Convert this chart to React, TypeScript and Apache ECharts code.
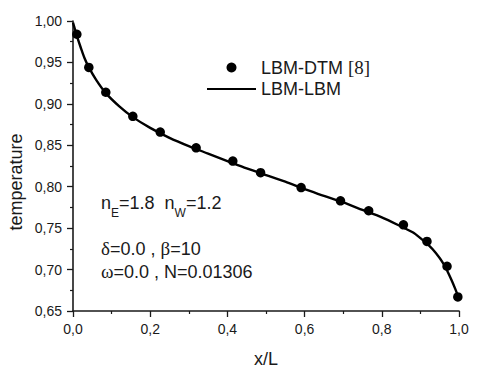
import React, { useEffect, useRef } from "react";
import * as echarts from "echarts";

const dotX = [0.01, 0.041, 0.085, 0.155, 0.226, 0.319, 0.414, 0.486, 0.591, 0.693, 0.766, 0.856, 0.917, 0.969, 0.997];
const dotY = [0.984, 0.944, 0.914, 0.885, 0.866, 0.847, 0.831, 0.817, 0.799, 0.783, 0.771, 0.754, 0.734, 0.704, 0.667];

const lineX = [0, 0.005, 0.01, 0.02, 0.03, 0.04, 0.06, 0.085, 0.12, 0.155, 0.2, 0.25, 0.3, 0.35, 0.4, 0.45, 0.5, 0.55, 0.6, 0.65, 0.7, 0.75, 0.8, 0.85, 0.88, 0.9, 0.92, 0.94, 0.96, 0.97, 0.98, 0.99, 1.0];
const lineY = [0.998, 0.99, 0.982, 0.968, 0.955, 0.945, 0.929, 0.913, 0.897, 0.884, 0.871, 0.859, 0.849, 0.84, 0.831, 0.822, 0.814, 0.806, 0.797, 0.789, 0.781, 0.772, 0.763, 0.752, 0.745, 0.738, 0.73, 0.72, 0.707, 0.698, 0.688, 0.677, 0.665];

const seriesNames = ["LBM-DTM [8]", "LBM-LBM"];
const xAxisName = "x/L";
const yAxisName = "temperature";

const FONT = "'Liberation Sans', Arial, sans-serif";
const SERIF = "'Liberation Serif', 'DejaVu Serif', serif";
const INK = "#1a1a1a";

export default function App() {
  const ref = useRef<HTMLDivElement>(null);
  useEffect(() => {
    if (!ref.current) return;
    const chart = echarts.init(ref.current, null, { renderer: "svg" });
    chart.setOption({
      animation: false,
      backgroundColor: "#fff",
      textStyle: { fontFamily: FONT },
      grid: { left: 73, right: 21, top: 21, bottom: 56 },
      xAxis: {
        type: "value",
        min: 0,
        max: 1,
        interval: 0.2,
        name: xAxisName,
        nameLocation: "middle",
        nameGap: 39,
        nameTextStyle: { fontSize: 18, color: INK, fontFamily: FONT },
        axisLine: { show: true, onZero: false, lineStyle: { color: INK, width: 1.6 } },
        axisTick: { show: true, inside: false, length: 6, lineStyle: { color: INK, width: 1.3 } },
        minorTick: { show: true, splitNumber: 2, length: 3, lineStyle: { color: INK, width: 1.2 } },
        axisLabel: {
          fontSize: 14,
          color: INK,
          margin: 11,
          formatter: (v: number) => v.toFixed(1).replace(".", ","),
        },
        splitLine: { show: false },
      },
      yAxis: {
        type: "value",
        min: 0.65,
        max: 1.0,
        interval: 0.05,
        axisLine: { show: true, onZero: false, lineStyle: { color: INK, width: 1.6 } },
        axisTick: { show: true, inside: false, length: 6, lineStyle: { color: INK, width: 1.3 } },
        minorTick: { show: true, splitNumber: 2, length: 3, lineStyle: { color: INK, width: 1.2 } },
        axisLabel: {
          fontSize: 14,
          color: INK,
          margin: 11,
          formatter: (v: number) => v.toFixed(2).replace(".", ","),
        },
        splitLine: { show: false },
      },
      legend: {
        orient: "vertical",
        left: 201,
        top: 53,
        itemWidth: 49,
        itemHeight: 10,
        itemGap: 3,
        data: [
          { name: seriesNames[0] },
          { name: seriesNames[1], itemStyle: { opacity: 0 } },
        ],
        textStyle: {
          fontSize: 18,
          color: INK,
          fontFamily: FONT,
          rich: {
            a: { fontSize: 18, color: INK, fontFamily: FONT },
            s: { fontSize: 19, color: INK, fontFamily: SERIF },
          },
        },
        formatter: (name: string) =>
          name === seriesNames[0] ? "{a|LBM-DTM }{s|[8]}" : "{a|" + name + "}",
      },
      series: [
        {
          name: seriesNames[0],
          type: "scatter",
          data: dotX.map((x, i) => [x, dotY[i]]),
          symbol: "circle",
          symbolSize: 9.5,
          itemStyle: { color: "#000", opacity: 1 },
          z: 3,
        },
        {
          name: seriesNames[1],
          type: "line",
          data: lineX.map((x, i) => [x, lineY[i]]),
          showSymbol: false,
          symbol: "none",
          smooth: 0.3,
          lineStyle: { color: "#000", width: 2.4 },
          itemStyle: { color: "#000" },
          z: 2,
        },
      ],
      graphic: [
        {
          type: "text",
          x: 16,
          y: 182,
          rotation: Math.PI / 2,
          style: {
            text: yAxisName,
            fontSize: 18,
            fontFamily: FONT,
            fill: INK,
            align: "center",
            verticalAlign: "middle",
          },
        },
        {
          type: "text",
          x: 101,
          y: 194,
          style: {
            text: "{n|n}{sub|E}{n|=1.8  n}{sub|W}{n|=1.2}",
            fontFamily: FONT,
            fill: INK,
            rich: {
              n: { fontSize: 18, fontFamily: FONT, color: INK, lineHeight: 20, verticalAlign: "top" },
              sub: { fontSize: 12, fontFamily: FONT, color: INK, lineHeight: 12, verticalAlign: "bottom", padding: [0, 0, -5, 0] },
            },
          },
        },
        {
          type: "text",
          x: 101,
          y: 239,
          style: {
            text: "{g|δ}{n|=0.0 , }{g|β}{n|=10}",
            fill: INK,
            rich: {
              n: { fontSize: 18, fontFamily: FONT, color: INK },
              g: { fontSize: 19, fontFamily: SERIF, color: INK },
            },
          },
        },
        {
          type: "text",
          x: 101,
          y: 262,
          style: {
            text: "{g|ω}{n|=0.0 , N=0.01306}",
            fill: INK,
            rich: {
              n: { fontSize: 18, fontFamily: FONT, color: INK },
              g: { fontSize: 19, fontFamily: SERIF, color: INK },
            },
          },
        },
      ],
    });
    return () => chart.dispose();
  }, []);
  return (
    <div
      ref={ref}
      style={{ position: "absolute", left: 0, top: 0, width: 480, height: 373 }}
    />
  );
}
